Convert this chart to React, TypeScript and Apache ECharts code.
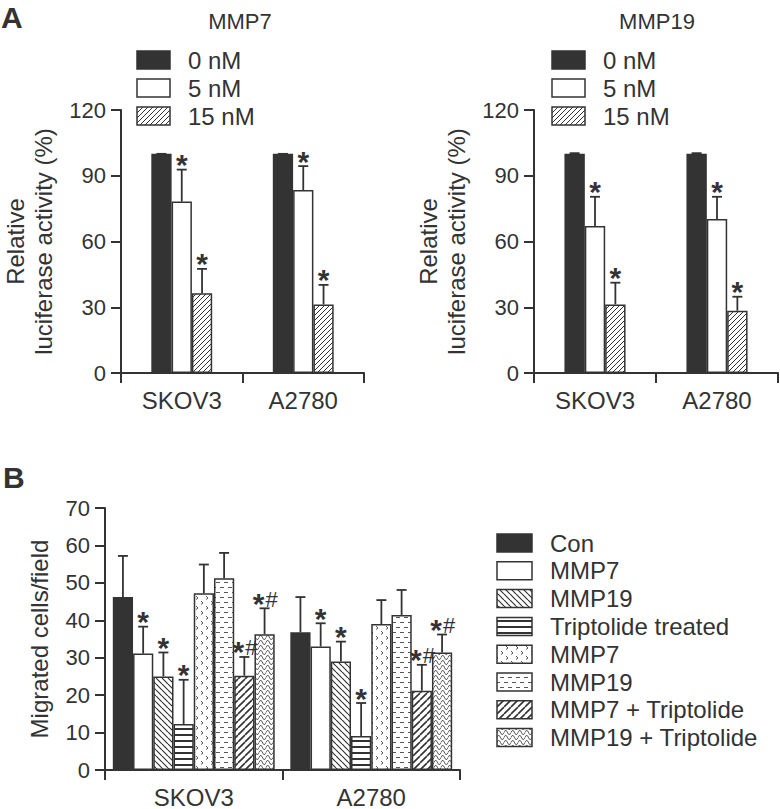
import React, { useEffect, useRef } from "react";
import * as echarts from "echarts";

const FONT = '"Liberation Sans", Arial, Helvetica, sans-serif';
const INK = "#333333";

// ---------- Panel A : relative luciferase activity ----------
const cellLines = ["SKOV3", "A2780"];
const doses = ["0 nM", "5 nM", "15 nM"];
const lucTicks = [0, 30, 60, 90, 120];
// mean per dose (rows) for SKOV3, A2780
const mmp7Mean = [
  [100, 100],
  [78.2, 83.5],
  [36.4, 31.3],
];
const mmp7Sd = [
  [0, 0],
  [14.6, 10.9],
  [11.1, 8.9],
];
const mmp19Mean = [
  [100, 100],
  [67.1, 70.3],
  [31.3, 28.4],
];
const mmp19Sd = [
  [0.3, 0.3],
  [13.3, 10.1],
  [9.9, 6.4],
];
const doseMarks = ["", "*", "*"];

// ---------- Panel B : migration ----------
const groups = [
  "Con",
  "MMP7",
  "MMP19",
  "Triptolide treated",
  "MMP7",
  "MMP19",
  "MMP7 + Triptolide",
  "MMP19 + Triptolide",
];
const migTicks = [0, 10, 20, 30, 40, 50, 60, 70];
const migMean = [
  [46.2, 36.8],
  [31.1, 33.0],
  [25.0, 29.0],
  [12.3, 9.1],
  [47.2, 39.0],
  [51.2, 41.4],
  [25.2, 21.2],
  [36.3, 31.4],
];
const migSd = [
  [11.0, 9.4],
  [7.2, 6.2],
  [6.4, 5.3],
  [11.8, 8.8],
  [7.7, 6.4],
  [6.8, 6.7],
  [5.0, 6.9],
  [6.9, 4.8],
];
const groupMarks = ["", "*", "*", "*", "", "", "*#", "*#"];

type Ctx = CanvasRenderingContext2D;

function tile(w: number, h: number, draw: (c: Ctx, w: number, h: number) => void) {
  const cv = document.createElement("canvas");
  cv.width = w;
  cv.height = h;
  const c = cv.getContext("2d") as Ctx;
  c.fillStyle = "#ffffff";
  c.fillRect(0, 0, w, h);
  c.strokeStyle = INK;
  c.fillStyle = INK;
  draw(c, w, h);
  return { image: cv.toDataURL(), repeat: "repeat", imageWidth: w, imageHeight: h } as any;
}

function diagUp(s: number, lw: number) {
  return tile(s, s, (c) => {
    c.lineWidth = lw;
    c.beginPath();
    for (let k = -1; k <= 1; k++) {
      c.moveTo(k * s, s);
      c.lineTo(k * s + s, 0);
    }
    c.stroke();
  });
}
function diagDown(s: number, lw: number) {
  return tile(s, s, (c) => {
    c.lineWidth = lw;
    c.beginPath();
    for (let k = -1; k <= 1; k++) {
      c.moveTo(k * s, 0);
      c.lineTo(k * s + s, s);
    }
    c.stroke();
  });
}

function makePatterns() {
  const hatchA = diagUp(5, 1);
  const back = diagDown(6, 1.2);
  const horiz = tile(6, 6, (c) => {
    c.fillRect(0, 2, 6, 2);
  });
  const squig = tile(10, 10, (c) => {
    c.lineWidth = 1;
    c.strokeStyle = "#555";
    c.beginPath();
    c.moveTo(1, 1);
    c.lineTo(3, 3);
    c.lineTo(1, 4.5);
    c.moveTo(6, 6);
    c.lineTo(8, 8);
    c.lineTo(6, 9.5);
    c.stroke();
  });
  const dashes = tile(8, 10, (c) => {
    c.lineWidth = 1;
    c.strokeStyle = "#555";
    c.beginPath();
    c.moveTo(0, 2.5);
    c.lineTo(4, 2.5);
    c.moveTo(4, 7.5);
    c.lineTo(8, 7.5);
    c.stroke();
  });
  const fwd = diagUp(7, 1.6);
  const wave = tile(7, 5, (c) => {
    c.lineWidth = 1;
    c.beginPath();
    c.moveTo(0, 2.5);
    c.bezierCurveTo(1.75, -0.5, 1.75, -0.5, 3.5, 2.5);
    c.bezierCurveTo(5.25, 5.5, 5.25, 5.5, 7, 2.5);
    c.stroke();
  });
  return { hatchA, back, horiz, squig, dashes, fwd, wave };
}

export default function App() {
  const ref = useRef<HTMLDivElement>(null);

  useEffect(() => {
    if (!ref.current) return;
    const chart = echarts.init(ref.current, null, { renderer: "svg" });
    const P = makePatterns();
    const fillsA = [INK, "#ffffff", P.hatchA];
    const fillsB = [INK, "#ffffff", P.back, P.horiz, P.squig, P.dashes, P.fwd, P.wave];

    const xAx = (gridIndex: number) => ({
      type: "category",
      gridIndex,
      data: cellLines,
      axisLine: { lineStyle: { color: INK, width: 2 } },
      axisTick: { show: true, length: 10, lineStyle: { color: INK, width: 2 } },
      axisLabel: { color: INK, fontSize: 24, fontFamily: FONT, margin: 15 },
      splitLine: { show: false },
    });
    const yAx = (gridIndex: number, ticks: number[], name: string, nameGap: number) => ({
      type: "value",
      gridIndex,
      min: ticks[0],
      max: ticks[ticks.length - 1],
      interval: ticks[1] - ticks[0],
      name,
      nameLocation: "middle",
      nameGap,
      nameRotate: 90,
      nameTextStyle: { color: INK, fontSize: 24, fontFamily: FONT, lineHeight: 28 },
      axisLine: { show: true, lineStyle: { color: INK, width: 2 } },
      axisTick: { show: true, length: 10, lineStyle: { color: INK, width: 2 } },
      axisLabel: { color: INK, fontSize: 22, fontFamily: FONT, margin: 15 },
      splitLine: { show: false },
    });

    const series: any[] = [];

    const addPanel = (
      axisIdx: number,
      names: string[],
      mean: number[][],
      sd: number[][],
      marks: string[],
      fills: any[],
      frac: number
    ) => {
      const n = names.length;
      names.forEach((nm, gi) => {
        series.push({
          type: "bar",
          name: nm,
          xAxisIndex: axisIdx,
          yAxisIndex: axisIdx,
          data: mean[gi],
          barWidth: frac * 100 + "%",
          barGap: "0%",
          silent: true,
          itemStyle: { color: fills[gi], borderColor: INK, borderWidth: 1.5 },
        });
      });
      const data: number[][] = [];
      const markList: string[] = [];
      mean.forEach((row, gi) =>
        row.forEach((v, ci) => {
          data.push([ci, gi, v, sd[gi][ci]]);
          markList.push(marks[gi]);
        })
      );
      series.push({
        type: "custom",
        xAxisIndex: axisIdx,
        yAxisIndex: axisIdx,
        silent: true,
        z: 5,
        data,
        renderItem: (params: any, api: any) => {
          const ci = api.value(0);
          const gi = api.value(1);
          const m = api.value(2);
          const s = api.value(3);
          const band = api.size([1, 0])[0];
          const bw = band * frac;
          const cx = api.coord([ci, 0])[0] + (gi - (n - 1) / 2) * bw;
          const y0 = api.coord([ci, m])[1];
          const y1 = api.coord([ci, m + s])[1];
          const cap = 5;
          const children: any[] = [
            { type: "line", shape: { x1: cx, y1: y0, x2: cx, y2: y1 }, style: { stroke: INK, lineWidth: 1.8 } },
            { type: "line", shape: { x1: cx - cap, y1: y1, x2: cx + cap, y2: y1 }, style: { stroke: INK, lineWidth: 1.8 } },
          ];
          const mk = markList[params.dataIndex];
          if (mk) {
            const hasHash = mk.indexOf("#") >= 0;
            children.push({
              type: "text",
              x: hasHash ? cx - 6 : cx,
              y: y1 - 5,
              style: {
                text: "*",
                textAlign: "center",
                textVerticalAlign: "middle",
                fontSize: 30,
                lineHeight: 14,
                fontWeight: "bold",
                fontFamily: FONT,
                fill: INK,
              },
            });
            if (hasHash) {
              children.push({
                type: "text",
                x: cx + 7,
                y: y1 - 9,
                style: {
                  text: "#",
                  textAlign: "center",
                  textVerticalAlign: "middle",
                  fontSize: 22,
                  lineHeight: 15,
                  fontFamily: FONT,
                  fill: INK,
                },
              });
            }
          }
          return { type: "group", children };
        },
      });
    };

    addPanel(0, doses, mmp7Mean, mmp7Sd, doseMarks, fillsA, 0.167);
    addPanel(1, doses, mmp19Mean, mmp19Sd, doseMarks, fillsA, 0.167);
    addPanel(2, groups, migMean, migSd, groupMarks, fillsB, 0.114);

    const graphic: any[] = [];
    const txt = (x: number, y: number, text: string, size: number, extra: any = {}) =>
      graphic.push({
        type: "text",
        x,
        y,
        silent: true,
        style: { text, fontSize: size, fontFamily: FONT, fill: INK, textVerticalAlign: "middle", ...extra },
      });

    txt(1, 17, "A", 30, { fontWeight: "bold" });
    txt(3, 477, "B", 30, { fontWeight: "bold" });
    txt(240, 21, "MMP7", 22, { textAlign: "center" });
    txt(657, 21, "MMP19", 22, { textAlign: "center" });

    const legend = (bx: number, tx: number, y0: number, step: number, w: number, h: number, names: string[], fills: any[]) => {
      names.forEach((nm, i) => {
        const y = y0 + i * step;
        graphic.push({
          type: "rect",
          silent: true,
          shape: { x: bx, y, width: w, height: h },
          style: { fill: fills[i], stroke: INK, lineWidth: 1.5 },
        });
        txt(tx, y + h / 2, nm, 24);
      });
    };
    legend(137, 188, 51, 28, 33, 18, doses, fillsA);
    legend(552, 603, 51, 28, 33, 18, doses, fillsA);
    legend(497, 550, 534, 27.8, 35, 18, groups, fillsB);

    chart.setOption({
      animation: false,
      backgroundColor: "#ffffff",
      textStyle: { fontFamily: FONT },
      grid: [
        { left: 118, top: 110, width: 246, height: 263 },
        { left: 534, top: 110, width: 244, height: 263 },
        { left: 105, top: 508, width: 355, height: 263 },
      ],
      xAxis: [xAx(0), xAx(1), xAx(2)],
      yAxis: [
        yAx(0, lucTicks, "Relative\nluciferase activity (%)", 64),
        yAx(1, lucTicks, "Relative\nluciferase activity (%)", 64),
        yAx(2, migTicks, "Migrated cells/field", 52),
      ],
      series,
      graphic,
    });

    return () => chart.dispose();
  }, []);

  return (
    <div
      ref={ref}
      style={{ position: "fixed", left: 0, top: 0, width: 780, height: 809, background: "#ffffff" }}
    />
  );
}
